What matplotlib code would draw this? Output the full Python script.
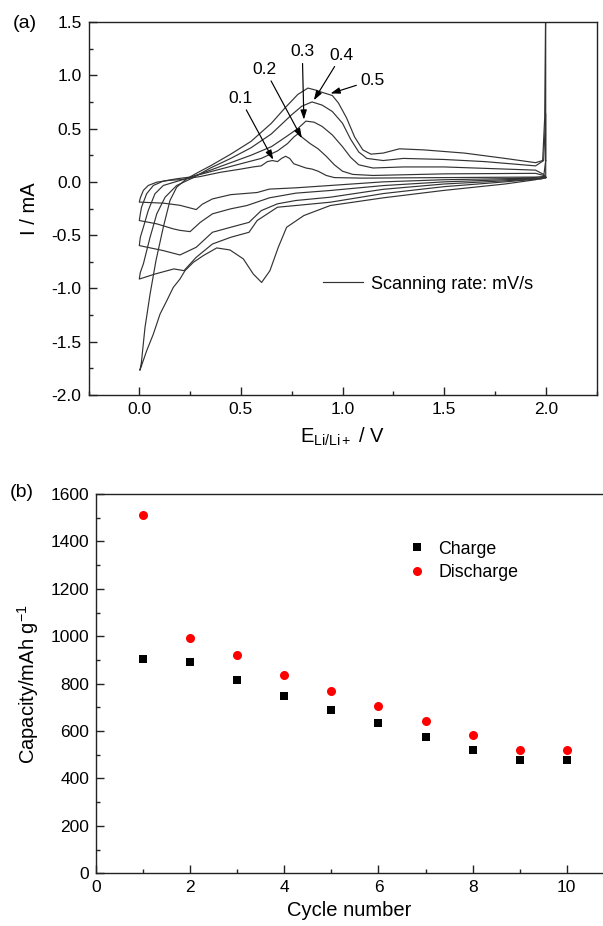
import matplotlib
matplotlib.use("Agg")
import matplotlib.pyplot as plt
from matplotlib.ticker import MultipleLocator, FormatStrFormatter

plt.rcParams['font.family'] = ['Liberation Sans', 'DejaVu Sans']
plt.rcParams['mathtext.fontset'] = 'custom'
plt.rcParams['mathtext.rm'] = 'Liberation Sans'
plt.rcParams['mathtext.it'] = 'Liberation Sans:italic'
plt.rcParams['mathtext.default'] = 'regular'
plt.rcParams['axes.unicode_minus'] = False

# ---- (a) cyclic voltammograms, (E / V, I / mA) ----
# cathodic sweep 2.0 V -> 0 V, then anodic sweep 0 V -> 2.0 V
cat_01 = [(2.0, 0.045), (1.98, 0.035), (1.8, 0.03), (1.5, 0.02), (1.2, 0.0), (0.94, -0.034),
          (0.77, -0.056), (0.64, -0.068), (0.58, -0.1), (0.45, -0.12), (0.36, -0.16), (0.31, -0.21),
          (0.28, -0.26), (0.24, -0.24), (0.2, -0.22), (0.12, -0.2), (0.0, -0.19)]
an_01 = [(0.005, -0.15), (0.02, -0.08), (0.044, -0.034), (0.086, -0.003), (0.15, 0.015), (0.2, 0.02),
         (0.3, 0.05), (0.4, 0.09), (0.5, 0.12), (0.56, 0.14), (0.6, 0.15), (0.63, 0.19), (0.655, 0.2),
         (0.68, 0.19), (0.7, 0.22), (0.72, 0.24), (0.74, 0.22), (0.76, 0.17), (0.79, 0.15), (0.82, 0.13),
         (0.85, 0.12), (0.88, 0.1), (0.92, 0.06), (0.96, 0.04), (1.1, 0.035), (1.5, 0.04), (1.95, 0.045),
         (1.99, 0.05)]

cat_02 = [(2.0, 0.04), (1.98, 0.03), (1.8, 0.02), (1.5, 0.0), (1.2, -0.035), (0.94, -0.081),
          (0.77, -0.106), (0.64, -0.15), (0.53, -0.222), (0.45, -0.253), (0.36, -0.3), (0.3, -0.38),
          (0.25, -0.467), (0.2, -0.455), (0.167, -0.441), (0.086, -0.394), (0.0, -0.363)]
an_02 = [(0.005, -0.3), (0.011, -0.238), (0.036, -0.112), (0.069, -0.034), (0.118, 0.007), (0.184, 0.029),
         (0.25, 0.045), (0.3, 0.07), (0.4, 0.12), (0.5, 0.17), (0.6, 0.22), (0.68, 0.29), (0.73, 0.36),
         (0.76, 0.42), (0.78, 0.45), (0.8, 0.42), (0.84, 0.36), (0.88, 0.31), (0.92, 0.24), (0.96, 0.16),
         (1.0, 0.1), (1.05, 0.07), (1.15, 0.06), (1.5, 0.075), (1.95, 0.08), (1.99, 0.06)]

cat_03 = [(2.0, 0.04), (1.98, 0.03), (1.8, 0.01), (1.5, -0.02), (1.2, -0.07), (0.94, -0.144),
          (0.77, -0.175), (0.68, -0.206), (0.6, -0.27), (0.54, -0.38), (0.45, -0.426), (0.36, -0.473),
          (0.28, -0.614), (0.2, -0.686), (0.118, -0.645), (0.0, -0.598)]
an_03 = [(0.005, -0.52), (0.02, -0.426), (0.044, -0.269), (0.077, -0.112), (0.118, -0.034), (0.2, 0.013),
         (0.25, 0.04), (0.35, 0.11), (0.45, 0.18), (0.55, 0.25), (0.65, 0.33), (0.72, 0.42), (0.78, 0.5),
         (0.82, 0.57), (0.86, 0.56), (0.9, 0.52), (0.95, 0.44), (1.0, 0.33), (1.04, 0.23), (1.08, 0.16),
         (1.15, 0.13), (1.3, 0.14), (1.5, 0.14), (1.8, 0.12), (1.95, 0.11), (1.99, 0.07)]

cat_04 = [(2.0, 0.04), (1.98, 0.03), (1.8, 0.0), (1.5, -0.045), (1.2, -0.11), (0.94, -0.191),
          (0.77, -0.222), (0.68, -0.238), (0.58, -0.363), (0.54, -0.473), (0.45, -0.52), (0.36, -0.583),
          (0.28, -0.708), (0.22, -0.833), (0.17, -0.817), (0.077, -0.865), (0.0, -0.912)]
an_04 = [(0.005, -0.85), (0.02, -0.77), (0.053, -0.52), (0.086, -0.3), (0.127, -0.144), (0.184, -0.034),
         (0.266, 0.04), (0.35, 0.13), (0.45, 0.22), (0.55, 0.32), (0.65, 0.45), (0.75, 0.63), (0.8, 0.71),
         (0.85, 0.75), (0.9, 0.72), (0.95, 0.66), (1.0, 0.55), (1.04, 0.4), (1.08, 0.28), (1.12, 0.22),
         (1.2, 0.2), (1.3, 0.22), (1.5, 0.21), (1.7, 0.19), (1.95, 0.15), (1.99, 0.2), (2.0, 0.64)]

cat_05 = [(2.0, 0.2), (1.99, 0.05), (1.95, 0.02), (1.8, -0.02), (1.5, -0.08), (1.2, -0.15), (0.94, -0.222),
          (0.81, -0.316), (0.725, -0.426), (0.684, -0.614), (0.643, -0.833), (0.602, -0.944),
          (0.561, -0.865), (0.512, -0.723), (0.446, -0.639), (0.381, -0.62), (0.315, -0.692),
          (0.266, -0.755), (0.225, -0.833), (0.2, -0.912), (0.167, -0.991), (0.135, -1.116),
          (0.102, -1.241), (0.069, -1.429), (0.036, -1.586), (0.003, -1.768)]
an_05 = [(0.01, -1.7), (0.028, -1.367), (0.053, -1.053), (0.082, -0.739), (0.118, -0.426), (0.151, -0.175),
         (0.184, -0.05), (0.233, 0.029), (0.3, 0.1), (0.35, 0.15), (0.45, 0.26), (0.55, 0.38), (0.65, 0.55),
         (0.72, 0.7), (0.78, 0.82), (0.83, 0.88), (0.87, 0.86), (0.9, 0.84), (0.95, 0.81), (0.98, 0.74),
         (1.02, 0.6), (1.06, 0.42), (1.1, 0.3), (1.14, 0.26), (1.2, 0.27), (1.28, 0.31), (1.4, 0.3),
         (1.6, 0.27), (1.8, 0.22), (1.95, 0.18), (1.985, 0.2), (1.995, 0.6), (2.0, 1.7)]

rates = ["0.1", "0.2", "0.3", "0.4", "0.5"]
# where each rate label sits and where its arrow points (E, I)
label_pos = [(0.496, 0.783), (0.618, 1.055), (0.802, 1.22), (0.996, 1.19), (1.148, 0.954)]
arrow_tip = [(0.659, 0.208), (0.80, 0.41), (0.81, 0.584), (0.859, 0.766), (0.941, 0.829)]

# ---- (b) cycling capacity ----
cycles = [1, 2, 3, 4, 5, 6, 7, 8, 9, 10]
charge = [905, 891, 815, 748, 689, 634, 577, 520, 480, 478]
discharge = [1511, 993, 919, 837, 769, 706, 644, 583, 520, 520]

W, H = 603, 926
fig = plt.figure(figsize=(W / 100, H / 100), dpi=100)
ax1 = fig.add_axes([88.5 / W, (H - 395) / H, (596.5 - 88.5) / W, (395 - 22) / H])
ax2 = fig.add_axes([96 / W, (H - 873.3) / H, (W - 96) / W, (873.3 - 494) / H])

line_col = "#333333"
branches = [(cat_01, an_01), (cat_02, an_02), (cat_03, an_03), (cat_04, an_04), (cat_05, an_05)]
cv_lines = []
for cat, an in branches:
    pts = cat + an + [cat[0]]
    e = [p[0] for p in pts]
    i = [p[1] for p in pts]
    ln, = ax1.plot(e, i, color=line_col, lw=0.85)
    cv_lines.append(ln)

for r, pos, tip in zip(rates, label_pos, arrow_tip):
    ax1.annotate(r, xy=tip, xytext=pos, ha="center", va="center", fontsize=12.5,
                 arrowprops=dict(arrowstyle="-|>,head_length=0.45,head_width=0.15", color="black",
                                 lw=0.85, shrinkA=1, shrinkB=0))

ax1.legend(handles=[cv_lines[0]], labels=["Scanning rate: mV/s"], loc="center left",
           bbox_to_anchor=(0.462, 0.297), frameon=False, fontsize=13, handlelength=2.2,
           handletextpad=0.45, borderpad=0, borderaxespad=0)

ax1.set_xlim(-0.25, 2.25)
ax1.set_ylim(-2.0, 1.5)
ax1.xaxis.set_major_locator(MultipleLocator(0.5))
ax1.xaxis.set_minor_locator(MultipleLocator(0.25))
ax1.yaxis.set_major_locator(MultipleLocator(0.5))
ax1.yaxis.set_minor_locator(MultipleLocator(0.25))
ax1.xaxis.set_major_formatter(FormatStrFormatter("%.1f"))
ax1.yaxis.set_major_formatter(FormatStrFormatter("%.1f"))
ax1.set_xlabel(r"E$_{\mathrm{Li/Li+}}$ / V", fontsize=14.5, labelpad=6)
ax1.set_ylabel("I / mA", fontsize=14.5, labelpad=9)

ax2.plot(cycles, charge, "s", color="black", ms=6, mew=0, label="Charge")
ax2.plot(cycles, discharge, "o", color="red", ms=6.5, mew=0, label="Discharge")
ax2.legend(loc="upper left", bbox_to_anchor=(0.616, 0.877), frameon=False, fontsize=12.8,
           handlelength=1.0, handletextpad=0.68, labelspacing=0.35, borderpad=0, borderaxespad=0)
ax2.set_xlim(0, 10.77)
ax2.set_ylim(0, 1600)
ax2.xaxis.set_major_locator(MultipleLocator(2))
ax2.xaxis.set_minor_locator(MultipleLocator(1))
ax2.yaxis.set_major_locator(MultipleLocator(200))
ax2.yaxis.set_minor_locator(MultipleLocator(100))
ax2.set_xlabel("Cycle number", fontsize=14.5, labelpad=4)
ax2.set_ylabel(r"Capacity/mAh g$^{-1}$", fontsize=14.5, labelpad=7)
ax2.spines["right"].set_visible(False)

for ax in (ax1, ax2):
    for s in ax.spines.values():
        s.set_linewidth(1.0)
        s.set_color("#222222")
    ax.tick_params(which="both", direction="in", top=False, right=False, color="#222222", width=1.0)
    ax.tick_params(which="major", length=5.5, labelsize=12.5, pad=5)
    ax.tick_params(which="minor", length=3)

fig.text(25 / W, 1 - 24 / H, "(a)", fontsize=14, ha="center", va="center")
fig.text(22 / W, 1 - 493 / H, "(b)", fontsize=14, ha="center", va="center")

fig.savefig("out.png", dpi=100)
